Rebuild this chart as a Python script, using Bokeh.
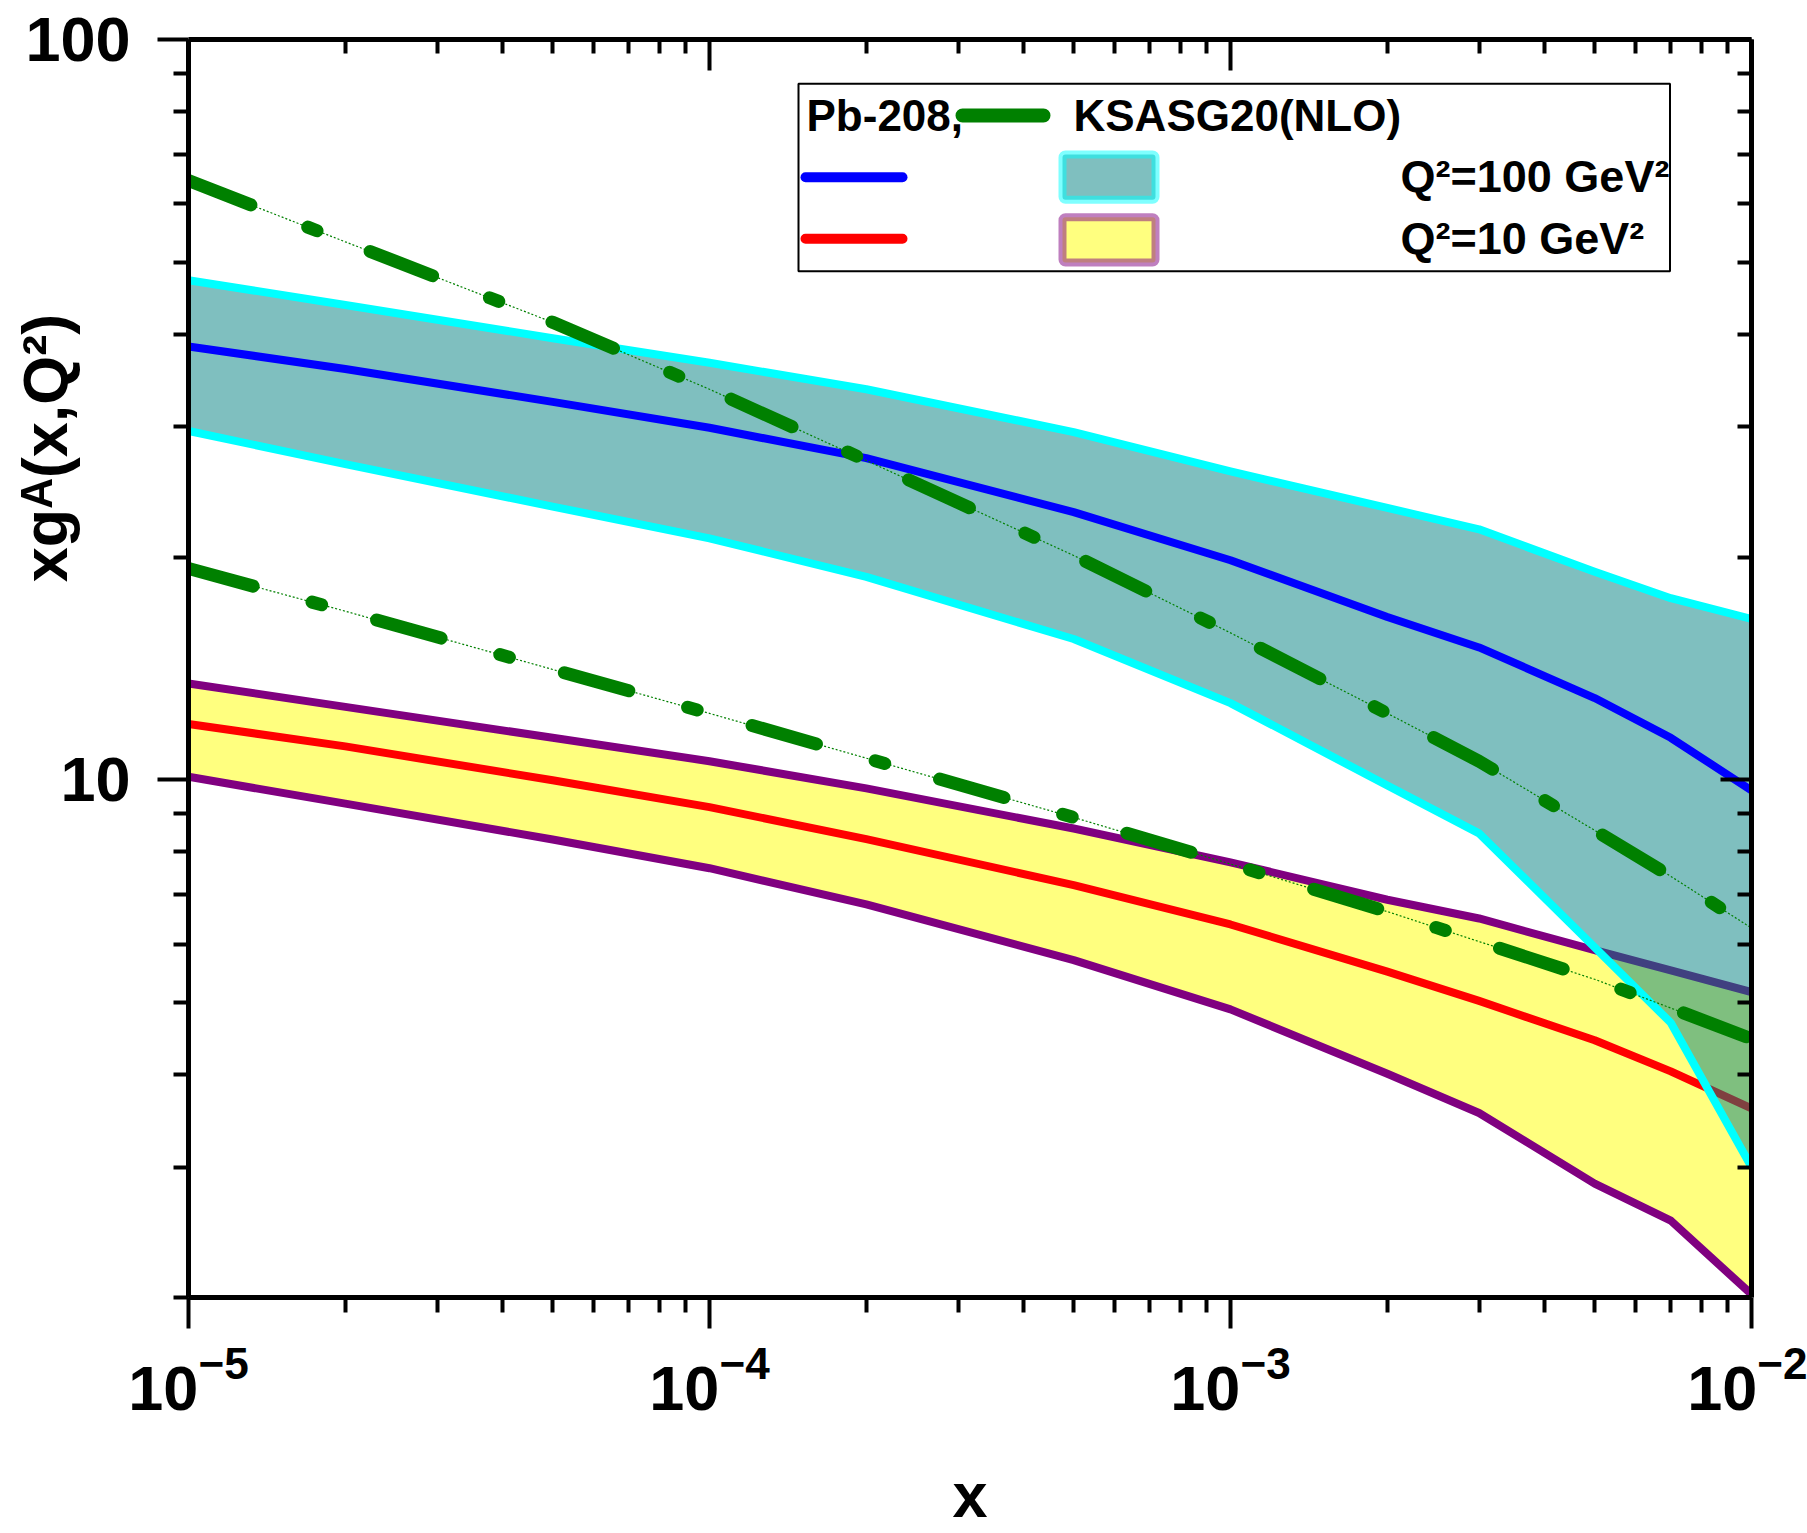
import numpy as np
from bokeh.plotting import figure
from bokeh.models import (FixedTicker, LogAxis, LogTickFormatter, BasicTickFormatter,
                          CustomJSTickFormatter, Label, BoxAnnotation)
from bokeh.embed import file_html
from bokeh.resources import INLINE

# ---------------- data ----------------
x = [1e-5, 2e-5, 5e-5, 1e-4, 2e-4, 5e-4, 1e-3, 2e-3, 3e-3, 5e-3, 7e-3, 1e-2]

# Q^2 = 100 GeV^2
q100_central = [38.5, 35.9, 32.4, 29.9, 27.2, 23.0, 19.8, 16.6, 15.1, 12.9, 11.4, 9.68]
q100_upper   = [47.3, 43.8, 39.5, 36.6, 33.7, 29.5, 26.1, 23.3, 21.8, 19.1, 17.6, 16.5]
q100_lower   = [29.6, 26.7, 23.4, 21.2, 18.8, 15.5, 12.7, 9.83, 8.47, 5.94, 4.70, 3.0]
q100_ksasg   = [64.5, 53.3, 41.5, 33.7, 27.0, 20.1, 15.8, 12.3, 10.6, 8.55, 7.41, 6.31]

# Q^2 = 10 GeV^2
q10_central = [11.9, 11.1, 9.99, 9.19, 8.32, 7.21, 6.38, 5.51, 5.03, 4.45, 4.04, 3.60]
q10_upper   = [13.5, 12.55, 11.4, 10.6, 9.74, 8.6, 7.74, 6.89, 6.5, 5.89, 5.53, 5.17]
q10_lower   = [10.1, 9.29, 8.31, 7.60, 6.79, 5.71, 4.90, 4.01, 3.55, 2.85, 2.54, 2.02]
q10_ksasg   = [19.3, 16.9, 14.1, 12.3, 10.7, 8.9, 7.7, 6.64, 6.05, 5.38, 4.92, 4.47]

x_major = [1e-5, 1e-4, 1e-3, 1e-2]
x_minor = [m * 10.0 ** e for e in (-5, -4, -3) for m in range(2, 10)]
y_major = [10, 100]
y_minor = [2, 3, 4, 5, 6, 7, 8, 9, 20, 30, 40, 50, 60, 70, 80, 90]

FONT = "Liberation Sans"

# ---------------- figure ----------------
p = figure(width=1807, height=1533, x_axis_type="log", y_axis_type="log",
           x_range=(1e-5, 1e-2), y_range=(2, 100),
           output_backend="svg", toolbar_location=None,
           min_border_left=188, min_border_right=56,
           min_border_top=39, min_border_bottom=236)
p.outline_line_color = None
p.grid.visible = False
p.background_fill_color = "white"
p.border_fill_color = "white"

# Q2=10 band
p.patch(x + x[::-1], q10_upper + q10_lower[::-1], fill_color="yellow", fill_alpha=0.5,
        line_color="black", line_alpha=0.5, line_width=3)
p.line(x, q10_upper, line_color="purple", line_width=8, line_join="round")
p.line(x, q10_lower, line_color="purple", line_width=8, line_join="round")
p.line(x, q10_central, line_color="red", line_width=8, line_join="round")

# Q2=100 band
p.patch(x + x[::-1], q100_upper + q100_lower[::-1], fill_color="teal", fill_alpha=0.5,
        line_color="black", line_alpha=0.5, line_width=3)
p.line(x, q100_upper, line_color="cyan", line_width=8, line_join="round")
p.line(x, q100_lower, line_color="cyan", line_width=8, line_join="round")
p.line(x, q100_central, line_color="blue", line_width=8, line_join="round")

# KSASG20 (NLO)
for ks in (q100_ksasg, q10_ksasg):
    p.line(x, ks, line_color="green", line_width=1.2, line_dash="2 2")
    p.line(x, ks, line_color="green", line_width=13, line_dash="67 61 10 57",
           line_cap="round", line_join="round")

# ---------------- axes ----------------
def style_axis(ax):
    ax.axis_line_width = 5
    ax.axis_line_color = "black"
    ax.major_tick_line_width = 4
    ax.minor_tick_line_width = 4
    ax.major_tick_line_color = "black"
    ax.minor_tick_line_color = "black"
    ax.major_label_text_font = FONT
    ax.major_label_text_font_style = "bold"
    ax.major_label_text_color = "black"

xt = FixedTicker(ticks=x_major, minor_ticks=x_minor)
yt = FixedTicker(ticks=y_major, minor_ticks=y_minor)

bx = p.xaxis[0]
bx.ticker = xt
bx.formatter = LogTickFormatter()
style_axis(bx)
bx.major_tick_out = 31
bx.major_tick_in = 0
bx.minor_tick_out = 15
bx.minor_tick_in = 0
bx.major_label_text_font_size = "63px"
bx.major_label_standoff = 17
bx.axis_label = "x"
bx.axis_label_text_font = FONT
bx.axis_label_text_font_style = "bold"
bx.axis_label_text_font_size = "63px"
bx.axis_label_text_color = "black"
bx.axis_label_standoff = 47

ly = p.yaxis[0]
ly.ticker = yt
ly.formatter = BasicTickFormatter()
style_axis(ly)
ly.major_tick_out = 31
ly.major_tick_in = 0
ly.minor_tick_out = 15
ly.minor_tick_in = 0
ly.major_label_text_font_size = "63px"
ly.major_label_standoff = 27
# the title sits above the frame centre in the reference: em spaces in front shift it up
ly.axis_label = "\u2003" * 7 + "xgᴬ(x,Q²)"
ly.axis_label_text_font = FONT
ly.axis_label_text_font_style = "bold"
ly.axis_label_text_font_size = "63px"
ly.axis_label_text_color = "black"
ly.axis_label_standoff = -58

empty = CustomJSTickFormatter(code="return ''")
top = LogAxis(ticker=xt, formatter=empty)
style_axis(top)
top.major_tick_in = 31
top.major_tick_out = 0
top.minor_tick_in = 14
top.minor_tick_out = 0
top.major_label_standoff = 0
top.major_label_text_font_size = "1px"
p.add_layout(top, "above")

right = LogAxis(ticker=yt, formatter=empty)
style_axis(right)
right.major_tick_in = 31
right.major_tick_out = 0
right.minor_tick_in = 14
right.minor_tick_out = 0
right.major_label_standoff = 0
right.major_label_text_font_size = "1px"
p.add_layout(right, "right")

# ---------------- legend (custom layout as in the reference) ----------------
def sbox(l, r, b, t, **kw):
    return BoxAnnotation(left=l, right=r, bottom=b, top=t,
                         left_units="screen", right_units="screen",
                         bottom_units="screen", top_units="screen", **kw)

p.add_layout(sbox(610, 1481.5, 1026.3, 1213.7, fill_color="white", fill_alpha=1.0,
                  line_color="black", line_width=2, line_alpha=1.0))
# line samples
p.add_layout(sbox(767, 862, 1175, 1189, fill_color="green", fill_alpha=1.0,
                  line_color=None, border_radius=7))
p.add_layout(sbox(612, 719, 1115.3, 1125.3, fill_color="blue", fill_alpha=1.0,
                  line_color=None, border_radius=5))
p.add_layout(sbox(612, 719, 1053.7, 1063.7, fill_color="red", fill_alpha=1.0,
                  line_color=None, border_radius=5))
# band samples
p.add_layout(sbox(874, 967, 1097.7, 1143, fill_color="teal", fill_alpha=0.5,
                  line_color="cyan", line_alpha=0.5, line_width=8, border_radius=3))
p.add_layout(sbox(874, 967, 1035, 1080.3, fill_color="yellow", fill_alpha=0.5,
                  line_color="purple", line_alpha=0.5, line_width=8, border_radius=3))

def ltext(xs, ys, t, size):
    p.add_layout(Label(x=xs, y=ys, x_units="screen", y_units="screen", text=t,
                       text_align="left", text_baseline="alphabetic",
                       text_font=FONT, text_font_style="bold", text_font_size=size,
                       text_color="black"))

ltext(618, 1182, "Pb-208,", "44px")
ltext(885, 1182, "KSASG20(NLO)", "44px")
ltext(1212, 1121, "Q²=100 GeV²", "45px")
ltext(1212, 1059, "Q²=10 GeV²", "45px")

open("out.html", "w").write(file_html(p, INLINE))
